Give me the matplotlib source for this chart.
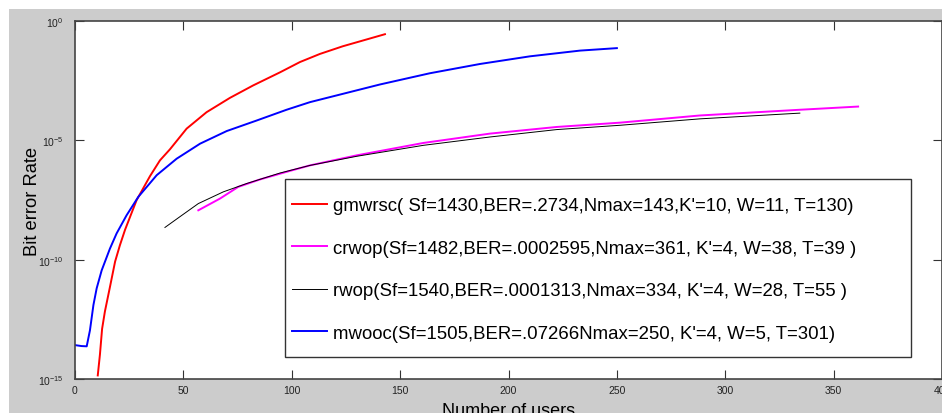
import matplotlib
matplotlib.use("Agg")
import matplotlib.pyplot as plt
from matplotlib.patches import Rectangle
from matplotlib.ticker import FixedLocator, FixedFormatter, NullLocator

plt.rcParams['font.family'] = ['Liberation Sans', 'DejaVu Sans']
plt.rcParams['mathtext.fontset'] = 'custom'
plt.rcParams['mathtext.rm'] = 'Liberation Sans'
plt.rcParams['mathtext.it'] = 'Liberation Sans'

# valores (numero de usuarios x BER)
users_gmwrsc = [10.5, 11.5, 12.5, 13.8, 16, 18.5, 20.7, 23.1, 28.4, 34.6, 39.2, 43.8,
                51.5, 60.7, 71.5, 82.2, 94.6, 103.8, 113, 123.5, 143]
ber_gmwrsc = [1.41e-15, 1.05e-14, 1.26e-13, 6.76e-13, 6.31e-12, 8.32e-11, 3.98e-10,
              1.8e-9, 3.09e-8, 3.16e-7, 1.45e-6, 4.2e-6, 3.09e-5, 1.51e-4, 6.03e-4,
              2.0e-3, 7.08e-3, 1.91e-2, 4.17e-2, 8.71e-2, 0.28]

users_crwop = [56.9, 66.9, 75.3, 85.3, 97.6, 108.4, 129.9, 160.7, 191.4, 222.2, 251.4,
               288.3, 334.4, 361.3]
ber_crwop = [1.17e-8, 3.63e-8, 1.12e-7, 2.29e-7, 4.79e-7, 8.91e-7, 2.34e-6, 7.76e-6,
             1.91e-5, 3.63e-5, 5.50e-5, 1.10e-4, 1.91e-4, 2.6e-4]

users_rwop = [41.5, 48.4, 56.9, 68.4, 79.2, 94.6, 108.4, 129.9, 160.7, 191.4, 222.2,
              251.4, 288.3, 334.4]
ber_rwop = [2.24e-9, 6.31e-9, 2.24e-8, 6.92e-8, 1.55e-7, 4.27e-7, 8.91e-7, 2.14e-6,
            6.17e-6, 1.38e-5, 2.82e-5, 4.27e-5, 7.94e-5, 1.38e-4]

users_mwooc = [0, 3, 5.4, 6.9, 8.5, 10, 12.3, 16.1, 19.2, 23.8, 29.2, 37.7, 46.9, 57.7,
               70, 83.8, 97.6, 108.4, 140.7, 163.7, 186.8, 209.9, 233, 250]
ber_mwooc = [2.63e-14, 2.40e-14, 2.34e-14, 1.10e-13, 1.26e-12, 6.31e-12, 3.55e-11,
             2.88e-10, 1.26e-9, 7.24e-9, 4.27e-8, 3.47e-7, 1.70e-6, 7.24e-6, 2.45e-5,
             6.76e-5, 1.91e-4, 3.98e-4, 2.19e-3, 6.46e-3, 1.58e-2, 3.31e-2, 5.75e-2,
             7.3e-2]

legendas = [
    "gmwrsc( Sf=1430,BER=.2734,Nmax=143,K'=10, W=11, T=130)",
    "crwop(Sf=1482,BER=.0002595,Nmax=361, K'=4, W=38, T=39 )",
    "rwop(Sf=1540,BER=.0001313,Nmax=334, K'=4, W=28, T=55 )",
    "mwooc(Sf=1505,BER=.07266Nmax=250, K'=4, W=5, T=301)",
]

x_ticks = [0, 50, 100, 150, 200, 250, 300, 350, 400]
y_ticks = [1e-15, 1e-10, 1e-5, 1]
y_tick_labels = [r'$10^{-15}$', r'$10^{-10}$', r'$10^{-5}$', r'$10^{0}$']

W, H = 942, 414
fig = plt.figure(figsize=(W / 100, H / 100), dpi=100, facecolor='white')
fig.patches.append(Rectangle((9 / W, 0), 1, 1 - 10 / H, transform=fig.transFigure,
                             facecolor='#cccccc', edgecolor='none', zorder=-10))

ax = fig.add_axes([75 / W, 1 - 380 / H, (W - 75) / W, (380 - 22) / H])
ax.set_facecolor('white')

ax.semilogy(users_gmwrsc, ber_gmwrsc, color='red', lw=1.4, label=legendas[0])
ax.semilogy(users_crwop, ber_crwop, color='magenta', lw=1.4, label=legendas[1])
ax.semilogy(users_rwop, ber_rwop, color='black', lw=0.7, label=legendas[2])
ax.semilogy(users_mwooc, ber_mwooc, color='blue', lw=1.4, label=legendas[3])

ax.set_xlim(0, 400)
ax.set_ylim(1e-15, 1)
ax.xaxis.set_major_locator(FixedLocator(x_ticks))
ax.yaxis.set_major_locator(FixedLocator(y_ticks))
ax.yaxis.set_major_formatter(FixedFormatter(y_tick_labels))
ax.yaxis.set_minor_locator(NullLocator())
ax.tick_params(direction='in', length=6.3, width=0.8, color='#333333',
               labelsize=7.5, labelcolor='#222222', top=True, right=True)
ax.tick_params(axis='y', pad=8)
ax.tick_params(axis='x', pad=4.5)
for s in ax.spines.values():
    s.set_color('#444444')
    s.set_linewidth(1.2)

ax.set_xlabel('Number of users', fontsize=13, labelpad=5)
ax.set_ylabel('Bit error Rate', fontsize=13.2)
ax.yaxis.set_label_coords(-(75 - 41) / (W - 75), 0.5)

# caixa da legenda desenhada a parte
ax.add_patch(Rectangle((285 / W, 1 - 358 / H), (911 - 285) / W, (358 - 180) / H,
                       transform=fig.transFigure, facecolor='white',
                       edgecolor='#333333', lw=1.0, zorder=4, clip_on=False))
leg = ax.legend(loc='upper left', bbox_to_anchor=(291.7 / W, 1 - 198 / H),
                bbox_transform=fig.transFigure, frameon=False, fontsize=13.4,
                borderpad=0, borderaxespad=0, handlelength=1.88, handletextpad=0.34,
                labelspacing=1.37)
leg.set_zorder(6)

fig.savefig('out.png', dpi=100, facecolor=fig.get_facecolor())
